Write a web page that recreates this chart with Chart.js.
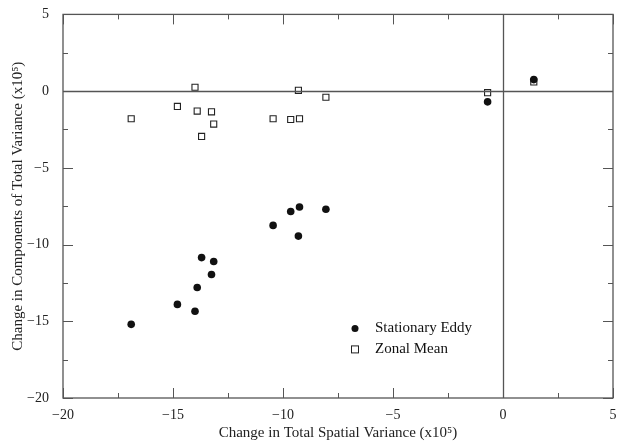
<!DOCTYPE html>
<html>
<head>
<meta charset="utf-8">
<script src="https://cdn.jsdelivr.net/npm/chart.js@4.4.1/dist/chart.umd.min.js"></script>
<style>
  body { margin: 0; background: #fff; }
  #wrap { width: 624px; height: 442px; }
</style>
</head>
<body>
<div id="wrap"><canvas id="chart" width="624" height="442"></canvas></div>
<script>
// Values (x10^5)
const eddyX  = [-16.9, -14.8, -14.0, -13.9, -13.7, -13.25, -13.15, -10.45, -9.65, -9.25, -9.3, -8.05, -0.7, 1.4];
const eddyY  = [-15.2, -13.9, -14.35, -12.8, -10.85, -11.95, -11.1, -8.75, -7.85, -7.55, -9.45, -7.7, -0.7, 0.75];
const zonalX = [-16.9, -14.8, -14.0, -13.9, -13.7, -13.25, -13.15, -10.45, -9.65, -9.25, -9.3, -8.05, -0.7, 1.4];
const zonalY = [-1.8, -1.0, 0.25, -1.3, -2.95, -1.35, -2.15, -1.8, -1.85, -1.8, 0.05, -0.4, -0.1, 0.6];

const seriesLabels = ['Stationary Eddy', 'Zonal Mean'];
const axisMin = -20;
const axisMax = 5;
const tickStep = 2.5;

const FONT = '"Liberation Serif", "Times New Roman", serif';
const FRAME = '#555';

function toPoints(xs, ys) {
    return xs.map((x, i) => ({ x: x, y: ys[i] }));
}

function tickLabel(value) {
    if (value % 5 !== 0) return '';
    return String(value).replace('-', '\u2212');
}

// frame, inward tick marks, zero lines and the in-plot legend
const decorations = {
    id: 'decorations',
    afterDatasetsDraw(chart) {
        const { ctx, chartArea: a, scales } = chart;
        const xs = scales.x, ys = scales.y;
        ctx.save();
        ctx.strokeStyle = FRAME;
        ctx.lineWidth = 1.3;
        ctx.strokeRect(a.left, a.top, a.right - a.left, a.bottom - a.top);

        // zero lines
        ctx.beginPath();
        const x0 = Math.round(xs.getPixelForValue(0)) + 0.5;
        const y0 = Math.round(ys.getPixelForValue(0)) + 0.5;
        ctx.moveTo(x0, a.top); ctx.lineTo(x0, a.bottom);
        ctx.moveTo(a.left, y0); ctx.lineTo(a.right, y0);
        ctx.stroke();

        // inward ticks on all four sides
        ctx.lineWidth = 1;
        ctx.beginPath();
        xs.ticks.forEach(t => {
            const len = t.value % 5 === 0 ? 10 : 5;
            const px = Math.round(xs.getPixelForValue(t.value)) + 0.5;
            ctx.moveTo(px, a.bottom); ctx.lineTo(px, a.bottom - len);
            ctx.moveTo(px, a.top); ctx.lineTo(px, a.top + len);
        });
        ys.ticks.forEach(t => {
            const len = t.value % 5 === 0 ? 10 : 5;
            const py = Math.round(ys.getPixelForValue(t.value)) + 0.5;
            ctx.moveTo(a.left, py); ctx.lineTo(a.left + len, py);
            ctx.moveTo(a.right, py); ctx.lineTo(a.right - len, py);
        });
        ctx.stroke();

        // legend
        const lx = a.left + 292;
        const ly = a.top + 314;
        ctx.font = '15px ' + FONT;
        ctx.textBaseline = 'middle';
        ctx.fillStyle = '#111';
        chart.data.datasets.forEach((ds, i) => {
            const y = ly + i * 21;
            ctx.beginPath();
            if (ds.pointStyle === 'circle') {
                ctx.arc(lx, y, 3.5, 0, Math.PI * 2);
                ctx.fill();
            } else {
                ctx.strokeStyle = '#222';
                ctx.lineWidth = 1;
                ctx.strokeRect(lx - 3.5, y - 3.5, 7, 7);
            }
            ctx.fillText(ds.label, lx + 20, y);
        });
        ctx.restore();
    }
};

const ctx = document.getElementById('chart').getContext('2d');
new Chart(ctx, {
    type: 'scatter',
    data: {
        datasets: [{
            label: seriesLabels[0],
            data: toPoints(eddyX, eddyY),
            pointStyle: 'circle',
            pointRadius: 3.8,
            backgroundColor: '#111',
            borderColor: '#111',
            borderWidth: 0
        }, {
            label: seriesLabels[1],
            data: toPoints(zonalX, zonalY),
            pointStyle: 'rect',
            pointRadius: 4.3,
            backgroundColor: 'rgba(255,255,255,0)',
            borderColor: '#222',
            borderWidth: 1.1
        }]
    },
    options: {
        responsive: false,
        animation: false,
        devicePixelRatio: 1,
        layout: { padding: { left: 0, right: 11, top: 13, bottom: 0 } },
        plugins: {
            legend: { display: false },
            tooltip: { enabled: false }
        },
        scales: {
            x: {
                type: 'linear',
                min: axisMin,
                max: axisMax,
                grid: { display: false },
                border: { display: false },
                ticks: {
                    stepSize: tickStep,
                    autoSkip: false,
                    maxRotation: 0,
                    padding: 1,
                    color: '#222',
                    font: { family: FONT, size: 14 },
                    callback: tickLabel
                },
                title: {
                    display: true,
                    text: 'Change in Total Spatial Variance (x10\u2075)',
                    color: '#222',
                    padding: { top: 2, bottom: 0 },
                    font: { family: FONT, size: 15 }
                },
                afterFit: scale => { scale.height = 44; }
            },
            y: {
                type: 'linear',
                min: axisMin,
                max: axisMax,
                grid: { display: false },
                border: { display: false },
                ticks: {
                    stepSize: tickStep,
                    autoSkip: false,
                    padding: 6,
                    color: '#222',
                    font: { family: FONT, size: 14 },
                    callback: tickLabel
                },
                title: {
                    display: true,
                    text: 'Change in Components of Total Variance (x10\u2075)',
                    color: '#222',
                    padding: { top: 9, bottom: 2 },
                    font: { family: FONT, size: 15 }
                },
                afterFit: scale => { scale.width = 63; }
            }
        }
    },
    plugins: [decorations]
});
</script>
</body>
</html>
